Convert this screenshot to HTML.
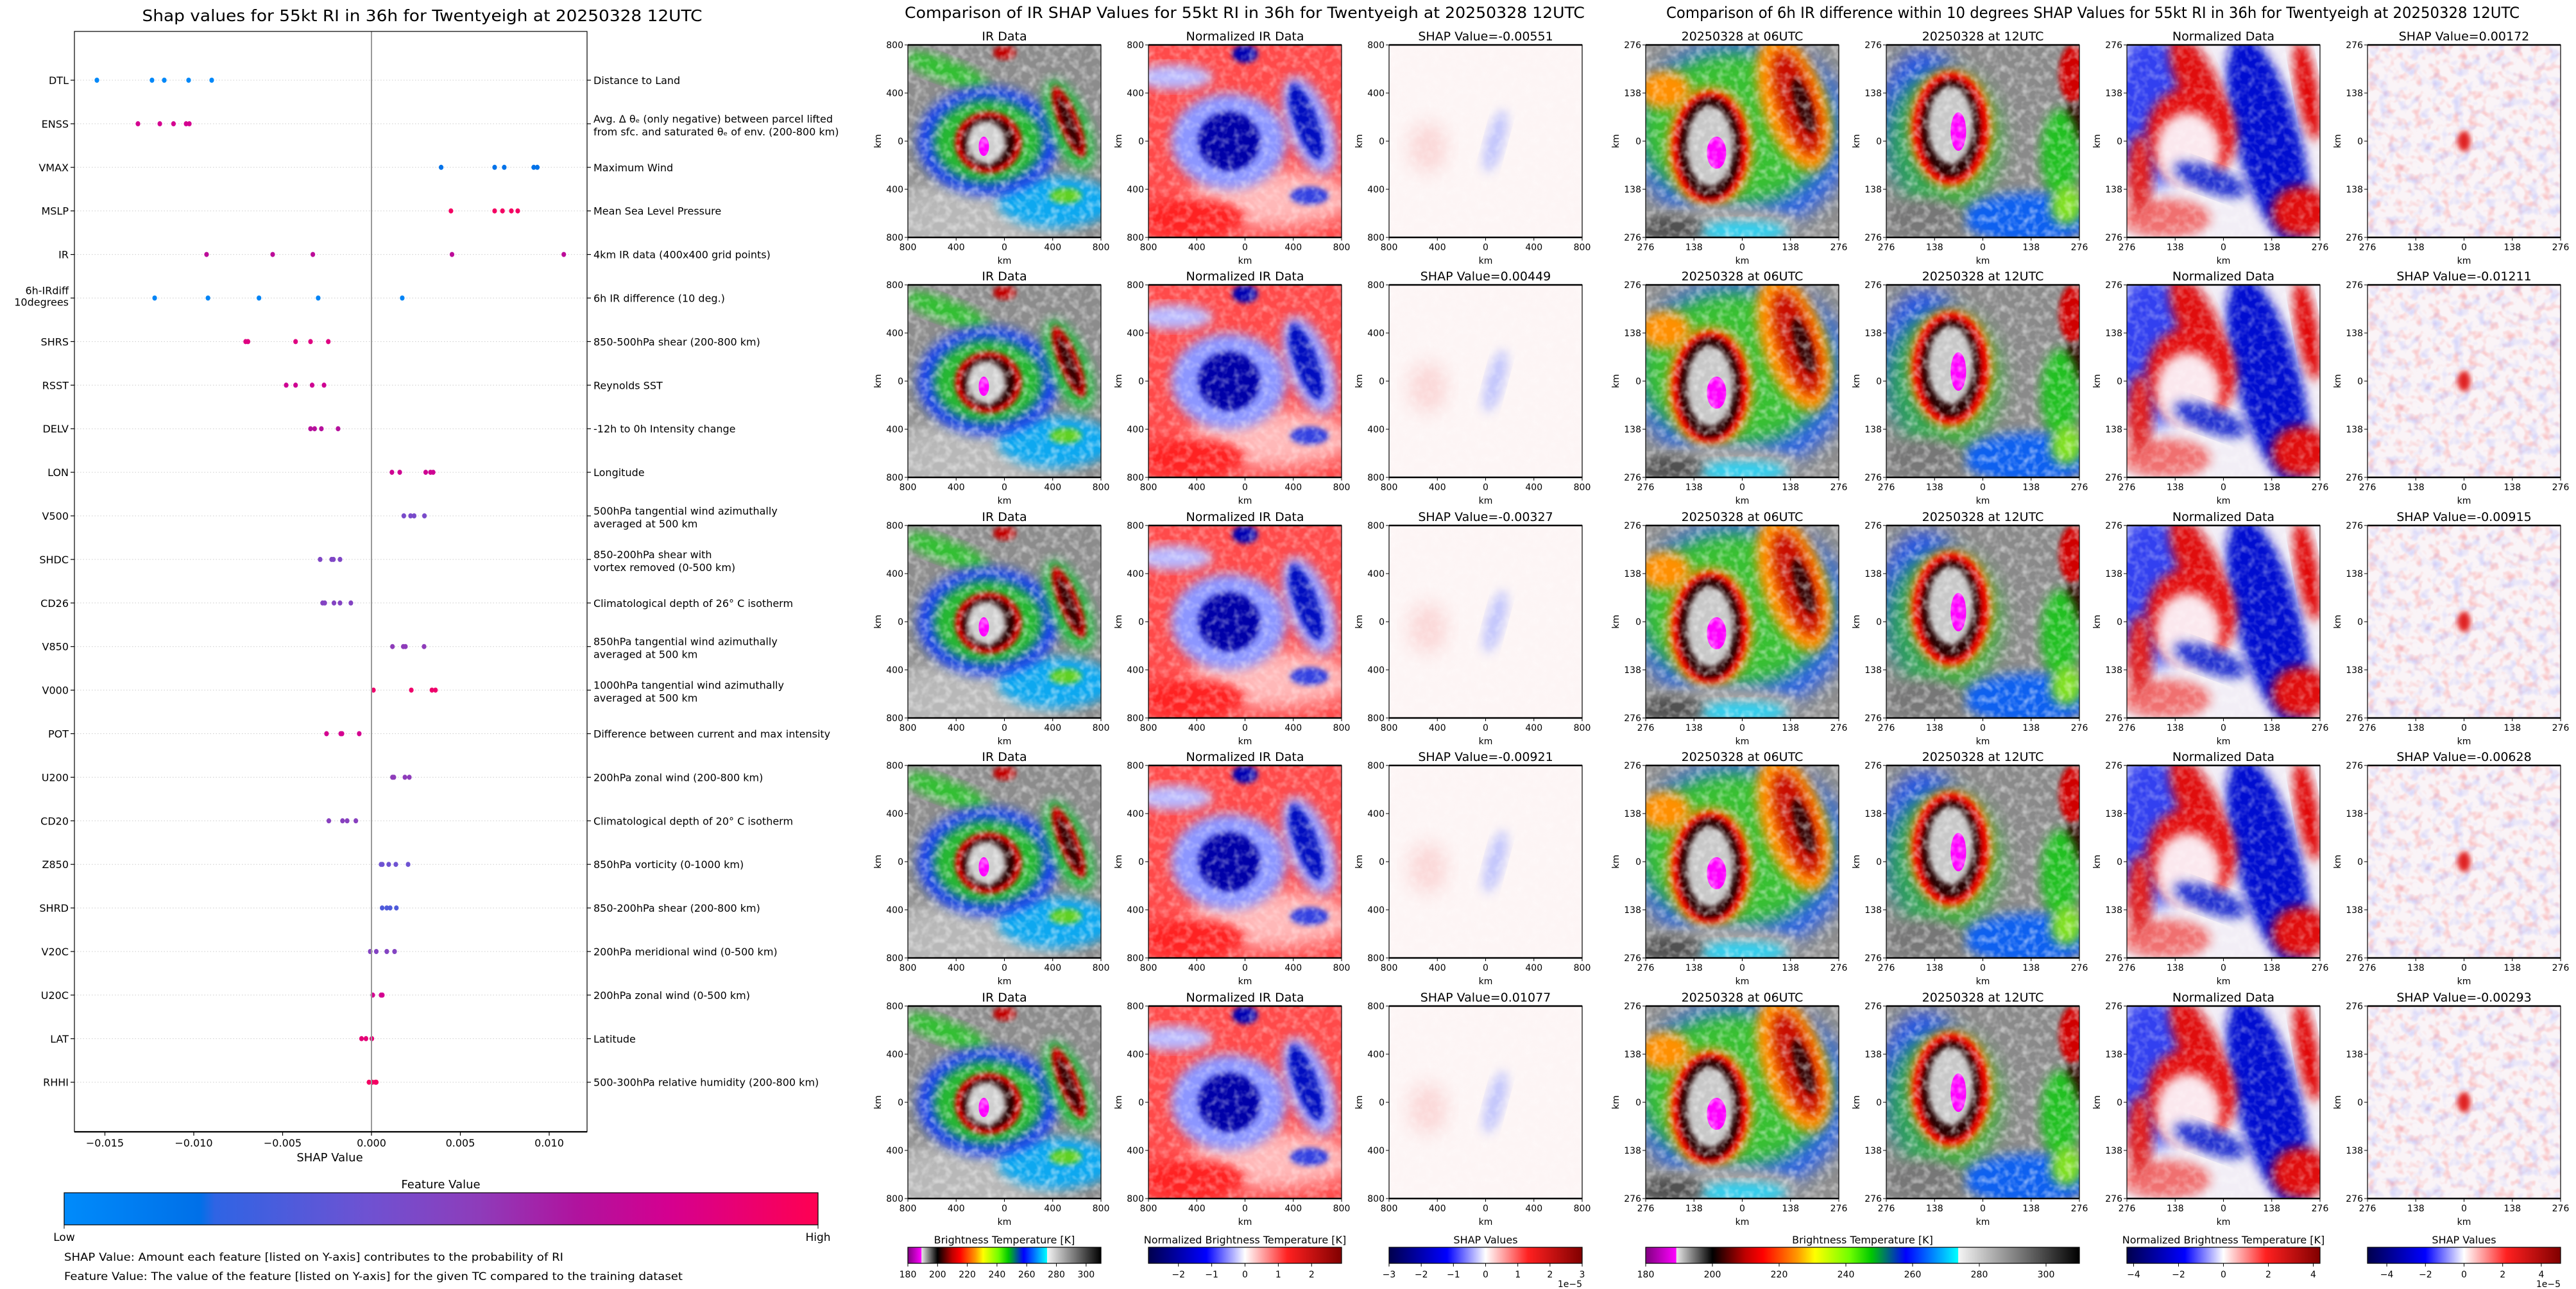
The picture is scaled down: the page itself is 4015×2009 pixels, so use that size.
<!DOCTYPE html>
<html><head><meta charset="utf-8"><title>SHAP RI chart</title>
<style>
html,body{margin:0;padding:0;background:#fff;}
svg{display:block;font-family:"DejaVu Sans","Liberation Sans",sans-serif;}
</style></head>
<body>
<svg id="root" xmlns="http://www.w3.org/2000/svg" width="4015" height="2009" viewBox="0 0 4015 2009">
<defs>
  <linearGradient id="fvGrad" x1="0" x2="1" y1="0" y2="0">
    <stop offset="0" stop-color="#008bfb"/><stop offset="0.18" stop-color="#0070e8"/>
    <stop offset="0.2" stop-color="#2f64e4"/><stop offset="0.4" stop-color="#6e52d2"/>
    <stop offset="0.55" stop-color="#8e3cba"/><stop offset="0.68" stop-color="#b0139e"/>
    <stop offset="0.8" stop-color="#d40090"/><stop offset="1" stop-color="#ff0052"/>
  </linearGradient>
  <linearGradient id="btGrad" x1="0" x2="1">
    <stop offset="0" stop-color="#800080"/><stop offset="0.07" stop-color="#ff00ff"/>
    <stop offset="0.071" stop-color="#e8e8e8"/><stop offset="0.154" stop-color="#000"/>
    <stop offset="0.23" stop-color="#c00000"/><stop offset="0.27" stop-color="#ff0000"/>
    <stop offset="0.35" stop-color="#ff9a00"/><stop offset="0.39" stop-color="#ffff00"/>
    <stop offset="0.47" stop-color="#70ff00"/><stop offset="0.52" stop-color="#00c800"/>
    <stop offset="0.6" stop-color="#0000ff"/><stop offset="0.72" stop-color="#00ffff"/>
    <stop offset="0.721" stop-color="#f4f4f4"/><stop offset="1" stop-color="#000"/>
  </linearGradient>
  <linearGradient id="bwrGrad" x1="0" x2="1">
    <stop offset="0" stop-color="#00004c"/><stop offset="0.3" stop-color="#0000ff"/>
    <stop offset="0.5" stop-color="#ffffff"/><stop offset="0.72" stop-color="#ff2020"/>
    <stop offset="1" stop-color="#800000"/>
  </linearGradient>
  <filter id="b6" x="-20%" y="-20%" width="140%" height="140%"><feGaussianBlur stdDeviation="8"/></filter>
  <filter id="b3" x="-20%" y="-20%" width="140%" height="140%"><feGaussianBlur stdDeviation="4"/></filter>
  <filter id="b12" x="-30%" y="-30%" width="160%" height="160%"><feGaussianBlur stdDeviation="14"/></filter>
  <filter id="noise"><feTurbulence type="fractalNoise" baseFrequency="0.09" numOctaves="2" seed="3"/>
    <feColorMatrix type="matrix" values="0 0 0 0 1  0 0 0 0 1  0 0 0 0 1  0 0 0 2.4 -1.0"/></filter>
  <filter id="noiseRB"><feTurbulence type="fractalNoise" baseFrequency="0.07" numOctaves="2" seed="7"/>
    <feColorMatrix type="matrix" values="0 0 0 0 0.95  0 0 0 0 0.2  0 0 0 0 0.2  2.2 0 0 0 -1.1"/></filter>
  <filter id="noiseB"><feTurbulence type="fractalNoise" baseFrequency="0.06" numOctaves="2" seed="11"/>
    <feColorMatrix type="matrix" values="0 0 0 0 0.3  0 0 0 0 0.35  0 0 0 0 1  0 2.2 0 0 -1.1"/></filter>

  <g id="imgIR">
    <rect width="300" height="300" fill="#8c8c8c"/>
    <ellipse cx="90" cy="270" rx="160" ry="55" fill="#b8b8b8" filter="url(#b12)"/>
    <ellipse cx="230" cy="245" rx="90" ry="40" fill="#10a8f0" filter="url(#b6)"/>
    <ellipse cx="60" cy="40" rx="70" ry="18" fill="#30c030" transform="rotate(20 60 40)" filter="url(#b6)"/>
    <ellipse cx="125" cy="150" rx="110" ry="85" fill="#1840f0" filter="url(#b6)"/>
    <ellipse cx="125" cy="150" rx="85" ry="65" fill="#28b830" filter="url(#b6)"/>
    <ellipse cx="125" cy="152" rx="52" ry="48" fill="#e80000" filter="url(#b3)"/>
    <ellipse cx="125" cy="152" rx="42" ry="40" fill="#250000" filter="url(#b3)"/>
    <ellipse cx="122" cy="152" rx="30" ry="33" fill="#cfcfcf" filter="url(#b3)"/>
    <ellipse cx="118" cy="158" rx="8" ry="15" fill="#ff00ff"/>
    <ellipse cx="250" cy="125" rx="30" ry="75" fill="#20c040" transform="rotate(-22 250 125)" filter="url(#b6)"/>
    <ellipse cx="250" cy="120" rx="16" ry="60" fill="#d00000" transform="rotate(-22 250 120)" filter="url(#b3)"/>
    <ellipse cx="250" cy="122" rx="8" ry="45" fill="#300000" transform="rotate(-22 250 122)" filter="url(#b3)"/>
    <ellipse cx="150" cy="12" rx="18" ry="11" fill="#c00000" filter="url(#b3)"/>
    <ellipse cx="245" cy="235" rx="25" ry="12" fill="#60d020" filter="url(#b3)"/>
    <rect width="300" height="300" filter="url(#noise)" opacity="0.45"/>
  </g>
  <g id="imgNorm">
    <rect width="300" height="300" fill="#ff4a4a"/>
    <ellipse cx="190" cy="240" rx="130" ry="45" fill="#ffb8b8" filter="url(#b12)"/>
    <ellipse cx="40" cy="50" rx="60" ry="20" fill="#b8b8ff" filter="url(#b6)"/>
    <ellipse cx="125" cy="150" rx="90" ry="75" fill="#8c96ff" filter="url(#b6)"/>
    <ellipse cx="125" cy="150" rx="48" ry="46" fill="#0000a8" filter="url(#b3)"/>
    <ellipse cx="250" cy="125" rx="35" ry="80" fill="#9aa0ff" transform="rotate(-20 250 125)" filter="url(#b6)"/>
    <ellipse cx="245" cy="120" rx="18" ry="62" fill="#0010c0" transform="rotate(-20 245 120)" filter="url(#b3)"/>
    <ellipse cx="150" cy="14" rx="20" ry="14" fill="#0000b0" filter="url(#b3)"/>
    <ellipse cx="250" cy="235" rx="30" ry="14" fill="#3040e0" filter="url(#b3)"/>
    <ellipse cx="70" cy="270" rx="80" ry="30" fill="#ff2020" filter="url(#b6)"/>
    <rect width="300" height="300" filter="url(#noise)" opacity="0.35"/>
  </g>
  <g id="imgShap">
    <rect width="300" height="300" fill="#fdf5f5"/>
    <ellipse cx="165" cy="150" rx="14" ry="50" fill="#a8b0ff" transform="rotate(15 165 150)" filter="url(#b6)" opacity="0.7"/>
    <ellipse cx="60" cy="160" rx="30" ry="40" fill="#fbd8d8" filter="url(#b12)"/>
    <rect width="300" height="300" fill="#fff" filter="url(#noise)" opacity="0.25"/>
  </g>
  <g id="imgT06">
    <rect width="300" height="300" fill="#8e8e8e"/>
    <ellipse cx="150" cy="140" rx="170" ry="150" fill="#2a60e8" filter="url(#b12)"/>
    <ellipse cx="140" cy="130" rx="150" ry="120" fill="#38c030" filter="url(#b12)"/>
    <ellipse cx="230" cy="90" rx="50" ry="110" fill="#ff9000" transform="rotate(-18 230 90)" filter="url(#b6)"/>
    <ellipse cx="235" cy="90" rx="28" ry="85" fill="#c81000" transform="rotate(-18 235 90)" filter="url(#b6)"/>
    <ellipse cx="245" cy="95" rx="12" ry="45" fill="#300000" transform="rotate(-18 245 95)" filter="url(#b3)"/>
    <ellipse cx="30" cy="70" rx="40" ry="30" fill="#ff9000" filter="url(#b6)"/>
    <ellipse cx="100" cy="160" rx="66" ry="94" fill="#ff8000" filter="url(#b6)"/>
    <ellipse cx="100" cy="160" rx="58" ry="86" fill="#e80000" filter="url(#b3)"/>
    <ellipse cx="100" cy="160" rx="48" ry="78" fill="#250000" filter="url(#b3)"/>
    <ellipse cx="100" cy="158" rx="36" ry="62" fill="#c8c8c8" filter="url(#b3)"/>
    <ellipse cx="110" cy="168" rx="15" ry="25" fill="#ff00ff"/>
    <ellipse cx="110" cy="280" rx="130" ry="30" fill="#a0a0a0" filter="url(#b6)"/>
    <ellipse cx="150" cy="290" rx="70" ry="16" fill="#30d0f0" filter="url(#b6)"/>
    <ellipse cx="40" cy="285" rx="50" ry="20" fill="#505050" filter="url(#b6)"/>
    <rect width="300" height="300" filter="url(#noise)" opacity="0.45"/>
  </g>
  <g id="imgT12">
    <rect width="300" height="300" fill="#8a8a8a"/>
    <ellipse cx="60" cy="120" rx="70" ry="110" fill="#2050f0" filter="url(#b12)"/>
    <ellipse cx="90" cy="150" rx="90" ry="110" fill="#30b830" filter="url(#b12)" opacity="0.8"/>
    <ellipse cx="100" cy="130" rx="64" ry="92" fill="#ff8000" filter="url(#b6)"/>
    <ellipse cx="100" cy="130" rx="58" ry="86" fill="#e80000" filter="url(#b3)"/>
    <ellipse cx="100" cy="130" rx="46" ry="76" fill="#250000" filter="url(#b3)"/>
    <ellipse cx="100" cy="125" rx="35" ry="60" fill="#c8c8c8" filter="url(#b3)"/>
    <ellipse cx="112" cy="135" rx="12" ry="30" fill="#ff00ff"/>
    <ellipse cx="290" cy="45" rx="22" ry="45" fill="#d00000" filter="url(#b3)"/>
    <ellipse cx="292" cy="120" rx="16" ry="30" fill="#300000" filter="url(#b3)"/>
    <ellipse cx="270" cy="170" rx="30" ry="70" fill="#20c020" filter="url(#b6)"/>
    <ellipse cx="220" cy="270" rx="100" ry="40" fill="#1060f0" filter="url(#b6)"/>
    <ellipse cx="280" cy="250" rx="25" ry="30" fill="#80e020" filter="url(#b6)"/>
    <ellipse cx="60" cy="270" rx="60" ry="30" fill="#777" filter="url(#b6)"/>
    <rect width="300" height="300" filter="url(#noise)" opacity="0.45"/>
  </g>
  <g id="imgND">
    <rect width="300" height="300" fill="#f2eef6"/>
    <ellipse cx="40" cy="100" rx="70" ry="120" fill="#3040f0" filter="url(#b12)"/>
    <ellipse cx="220" cy="150" rx="50" ry="170" fill="#0010d0" transform="rotate(-15 220 150)" filter="url(#b6)"/>
    <ellipse cx="110" cy="60" rx="30" ry="80" fill="#e01010" transform="rotate(-25 110 60)" filter="url(#b6)"/>
    <ellipse cx="280" cy="70" rx="16" ry="80" fill="#e00000" transform="rotate(-10 280 70)" filter="url(#b6)"/>
    <ellipse cx="100" cy="140" rx="70" ry="75" fill="#e41010" filter="url(#b6)"/>
    <ellipse cx="95" cy="165" rx="50" ry="60" fill="#fbe8ee" filter="url(#b6)"/>
    <ellipse cx="130" cy="210" rx="60" ry="20" fill="#2030d0" filter="url(#b6)" transform="rotate(20 130 210)"/>
    <ellipse cx="270" cy="260" rx="45" ry="40" fill="#e01010" filter="url(#b6)"/>
    <ellipse cx="60" cy="270" rx="70" ry="30" fill="#f07070" filter="url(#b6)"/>
    <ellipse cx="20" cy="200" rx="20" ry="60" fill="#e02020" filter="url(#b6)"/>
    <rect width="300" height="300" fill="#fff" filter="url(#noise)" opacity="0.3"/>
  </g>
  <g id="imgSD">
    <rect width="300" height="300" fill="#faf4f7"/>
    <rect width="300" height="300" filter="url(#noiseRB)" opacity="0.55"/>
    <rect width="300" height="300" filter="url(#noiseB)" opacity="0.45"/>
    <ellipse cx="150" cy="150" rx="10" ry="16" fill="#e02020" filter="url(#b3)"/>
  </g>
</defs>
<rect width="4015" height="2009" fill="#fff"/>
<g id="left"></g>
<g id="right"></g>
</svg>
<script>
const features = ["DTL","ENSS","VMAX","MSLP","IR","6h-IRdiff|10degrees","SHRS","RSST","DELV","LON","V500","SHDC","CD26","V850","V000","POT","U200","CD20","Z850","SHRD","V20C","U20C","LAT","RHHI"];
const descriptions = ["Distance to Land","Avg. Δ θₑ (only negative) between parcel lifted|from sfc. and saturated θₑ of env. (200-800 km)","Maximum Wind","Mean Sea Level Pressure","4km IR data (400x400 grid points)","6h IR difference (10 deg.)","850-500hPa shear (200-800 km)","Reynolds SST","-12h to 0h Intensity change","Longitude","500hPa tangential wind azimuthally|averaged at 500 km","850-200hPa shear with|vortex removed (0-500 km)","Climatological depth of 26° C isotherm","850hPa tangential wind azimuthally|averaged at 500 km","1000hPa tangential wind azimuthally|averaged at 500 km","Difference between current and max intensity","200hPa zonal wind (200-800 km)","Climatological depth of 20° C isotherm","850hPa vorticity (0-1000 km)","850-200hPa shear (200-800 km)","200hPa meridional wind (0-500 km)","200hPa zonal wind (0-500 km)","Latitude","500-300hPa relative humidity (200-800 km)"];
const shapValues = [
 [-0.01545,-0.01235,-0.01166,-0.01029,-0.00899],
 [-0.01314,-0.01191,-0.01114,-0.01043,-0.01025],
 [0.00392,0.00693,0.00747,0.00913,0.00933],
 [0.00447,0.00693,0.00737,0.00787,0.00823],
 [-0.00928,-0.00556,-0.0033,0.00453,0.01082],
 [-0.0122,-0.0092,-0.00633,-0.003,0.00173],
 [-0.00708,-0.00695,-0.00427,-0.00343,-0.00243],
 [-0.0048,-0.00427,-0.00334,-0.00267],
 [-0.00343,-0.0032,-0.00282,-0.00188],
 [0.00115,0.00159,0.00305,0.00332,0.00347],
 [0.00182,0.0022,0.0024,0.00298],
 [-0.00289,-0.00224,-0.00214,-0.00177],
 [-0.00275,-0.00263,-0.00211,-0.00177,-0.00116],
 [0.00118,0.00179,0.00191,0.00296],
 [0.00011,0.00224,0.0034,0.0036],
 [-0.00253,-0.00173,-0.00166,-0.00069],
 [0.00118,0.00126,0.00188,0.00213],
 [-0.0024,-0.00163,-0.00137,-0.00088],
 [0.00054,0.00061,0.00097,0.00137,0.00206],
 [0.0006,0.00086,0.00105,0.0014],
 [-0.00007,0.00027,0.00086,0.0013],
 [0.00007,0.00054,0.00061],
 [-0.00056,-0.00031,0.00002],
 [-0.00014,0.00005,0.00022,0.00027]
];
const featureValues = [0.02,0.8,0.17,0.95,0.72,0.05,0.85,0.78,0.7,0.78,0.45,0.48,0.5,0.55,0.92,0.8,0.55,0.52,0.4,0.3,0.5,0.8,0.88,0.95];
const xTicks = [-0.015,-0.010,-0.005,0.000,0.005,0.010];
const xTickLabels = ["−0.015","−0.010","−0.005","0.000","0.005","0.010"];

const shapTitles1 = ["SHAP Value=-0.00551","SHAP Value=0.00449","SHAP Value=-0.00327","SHAP Value=-0.00921","SHAP Value=0.01077"];
const shapTitles2 = ["SHAP Value=0.00172","SHAP Value=-0.01211","SHAP Value=-0.00915","SHAP Value=-0.00628","SHAP Value=-0.00293"];
const kmTicks800 = ["800","400","0","400","800"];
const kmTicks276 = ["276","138","0","138","276"];
const btTicks = [180,200,220,240,260,280,300];
const normTicks1 = [-2,-1,0,1,2];
const shapTicks1 = [-3,-2,-1,0,1,2,3];
const normTicks2 = [-4,-2,0,2,4];
const shapTicks2 = [-4,-2,0,2,4];

const NS="http://www.w3.org/2000/svg";
function mk(tag, attrs, parent, txt){
  const e=document.createElementNS(NS,tag);
  for(const k in attrs) e.setAttribute(k,attrs[k]);
  if(txt!==undefined) e.textContent=txt;
  parent.appendChild(e); return e;
}
const AX={l:116,r:915,t:49,b:1764};
const x0=579, pxPerUnit=27700;
function xs(v){return x0+v*pxPerUnit;}
function ys(i){return 125+67.9*i;}
const stops=[[0,[0,139,251]],[0.18,[0,112,232]],[0.2,[47,100,228]],[0.4,[110,82,210]],[0.55,[142,60,186]],[0.68,[176,19,158]],[0.8,[212,0,144]],[1,[255,0,82]]];
function fvColor(t){
  for(let i=1;i<stops.length;i++){ if(t<=stops[i][0]){const a=stops[i-1],b=stops[i];const f=(t-a[0])/(b[0]-a[0]);
    const c=a[1].map((v,j)=>Math.round(v+(b[1][j]-v)*f));return `rgb(${c[0]},${c[1]},${c[2]})`;}}
  return "rgb(255,0,82)";
}
const L=document.getElementById('left');
let t=mk('text',{x:658,y:33,'text-anchor':'middle','font-size':25,textLength:873,lengthAdjust:'spacingAndGlyphs'},L,"Shap values for 55kt RI in 36h for Twentyeigh at 20250328 12UTC");


const plot=mk('g',{},L);


features.forEach((f,i)=>{
  const y=ys(i);
  const g=mk('line',{x1:AX.l,x2:AX.r,y1:y,y2:y,stroke:'#ccc','stroke-width':1,'stroke-dasharray':'1.5,3'},plot);
  
  
  mk('line',{x1:AX.l-6,x2:AX.l,y1:y,y2:y,stroke:'#000','stroke-width':1.2},plot);
  mk('line',{x1:AX.r,x2:AX.r+6,y1:y,y2:y,stroke:'#000','stroke-width':1.2},plot);
  const parts=f.split('|');
  parts.forEach((p,k)=>{
    const yy = parts.length>1 ? y-6+k*18 : y+6;
    const tl=mk('text',{x:AX.l-9,y:yy,'text-anchor':'end','font-size':16},plot,p);
    
    
  });
  const dp=descriptions[i].split('|');
  dp.forEach((p,k)=>{
    const yy = dp.length>1 ? y-2+k*20 : y+6;
    const tl=mk('text',{x:925,y:yy,'font-size':16},plot,p);
    
    
  });
  shapValues[i].forEach(v=>{
    const c=mk('ellipse',{cx:xs(v),cy:y,rx:3.6,ry:4,fill:fvColor(featureValues[i])},plot);
    
    
  });
});
let zl=mk('line',{x1:x0,x2:x0,y1:AX.t,y2:AX.b,stroke:'#999','stroke-width':2},plot);


let fr=mk('rect',{x:AX.l,y:AX.t,width:AX.r-AX.l,height:AX.b-AX.t,fill:'none',stroke:'#000','stroke-width':1.2},plot);


mk('line',{x1:AX.l,x2:AX.r,y1:AX.b,y2:AX.b,stroke:'#000','stroke-width':2.2},plot);
xTicks.forEach((v,k)=>{
  mk('line',{x1:xs(v),x2:xs(v),y1:AX.b,y2:AX.b+6,stroke:'#000','stroke-width':1.2},plot);
  const tl=mk('text',{x:xs(v),y:1787,'text-anchor':'middle','font-size':16},plot,xTickLabels[k]);
  
  
});
t=mk('text',{x:514,y:1810,'text-anchor':'middle','font-size':18},L,"SHAP Value");


t=mk('text',{x:687,y:1852,'text-anchor':'middle','font-size':18},L,"Feature Value");


t=mk('rect',{x:100,y:1859,width:1175,height:50,fill:'url(#fvGrad)',stroke:'#000','stroke-width':1.2},L);


mk('line',{x1:100,x2:100,y1:1909,y2:1915,stroke:'#000'},L);
mk('line',{x1:1275,x2:1275,y1:1909,y2:1915,stroke:'#000'},L);
t=mk('text',{x:100,y:1934,'text-anchor':'middle','font-size':17},L,"Low");


t=mk('text',{x:1275,y:1934,'text-anchor':'middle','font-size':17},L,"High");


t=mk('text',{x:100,y:1965,'font-size':16.5,textLength:778,lengthAdjust:'spacingAndGlyphs'},L,"SHAP Value: Amount each feature [listed on Y-axis] contributes to the probability of RI");


t=mk('text',{x:100,y:1995,'font-size':16.5,textLength:964,lengthAdjust:'spacingAndGlyphs'},L,"Feature Value: The value of the feature [listed on Y-axis] for the given TC compared to the training dataset");



const R=document.getElementById('right');
t=mk('text',{x:1940,y:28,'text-anchor':'middle','font-size':24,textLength:1060,lengthAdjust:'spacingAndGlyphs'},R,"Comparison of IR SHAP Values for 55kt RI in 36h for Twentyeigh at 20250328 12UTC");


t=mk('text',{x:3262,y:28,'text-anchor':'middle','font-size':24,textLength:1330,lengthAdjust:'spacingAndGlyphs'},R,"Comparison of 6h IR difference within 10 degrees SHAP Values for 55kt RI in 36h for Twentyeigh at 20250328 12UTC");


const colX=[1415,1790,2165,2565,2940,3315,3690];
const rowY=[70,444,819,1193,1568];
const colImg=["imgIR","imgNorm","imgShap","imgT06","imgT12","imgND","imgSD"];
const colNames=["ir-data","normalized-ir","ir-shap","ir-06utc","ir-12utc","normalized-diff","diff-shap"];
const PW=301, PH=300;
rowY.forEach((y,ri)=>{
  colX.forEach((x,ci)=>{
    const g=mk('g',{},R);
    
    
    const titles=["IR Data","Normalized IR Data",shapTitles1[ri],"20250328 at 06UTC","20250328 at 12UTC","Normalized Data",shapTitles2[ri]];
    const st=mk('text',{x:x+PW/2,y:y-7,'text-anchor':'middle','font-size':19},g,titles[ci]);
    
    
    const inner=mk('svg',{x:x,y:y,width:PW,height:PH,viewBox:'0 0 300 300',preserveAspectRatio:'none',overflow:'hidden'},g);
    mk('use',{href:'#'+colImg[ci]},inner);
    mk('rect',{x:x,y:y,width:PW,height:PH,fill:'none',stroke:'#000','stroke-width':1.2},g);
    mk('line',{x1:x,x2:x+PW,y1:y,y2:y,stroke:'#000','stroke-width':2.5},g);
    mk('line',{x1:x,x2:x+PW,y1:y+PH,y2:y+PH,stroke:'#000','stroke-width':2.5},g);
    const ticks = ci<3 ? kmTicks800 : kmTicks276;
    ticks.forEach((lab,k)=>{
      const tx=x+k*PW/4, ty=y+k*PH/4;
      mk('line',{x1:tx,x2:tx,y1:y+PH,y2:y+PH+5,stroke:'#000'},g);
      mk('line',{x1:x-5,x2:x,y1:ty,y2:ty,stroke:'#000'},g);
      const a=mk('text',{x:tx,y:y+PH+20,'text-anchor':'middle','font-size':14},g,lab);
      
      
      const b=mk('text',{x:x-7,y:ty+5,'text-anchor':'end','font-size':14},g,lab);
      
      
    });
    const kx=mk('text',{x:x+PW/2,y:y+PH+41,'text-anchor':'middle','font-size':14},g,"km");
    
    
    const ky=mk('text',{x:x-42,y:y+PH/2,'text-anchor':'middle','font-size':14,transform:`rotate(-90 ${x-42} ${y+PH/2})`},g,"km");
    
    
  });
});
function colorbar(x,w,grad,title,ticks,vmin,vmax,name,exp){
  const g=mk('g',{},R);
  
  
  mk('text',{x:x+w/2,y:1938,'text-anchor':'middle','font-size':16},g,title);
  mk('rect',{x:x,y:1944,width:w,height:25,fill:'url(#'+grad+')',stroke:'#000','stroke-width':1.2},g);
  ticks.forEach(v=>{
    const tx=x+(v-vmin)/(vmax-vmin)*w;
    mk('line',{x1:tx,x2:tx,y1:1969,y2:1974,stroke:'#000'},g);
    const l=mk('text',{x:tx,y:1991,'text-anchor':'middle','font-size':14},g,String(v).replace('-','−'));
    
    
  });
  if(exp){mk('text',{x:x+w,y:2006,'text-anchor':'end','font-size':14},g,"1e−5");}
}
colorbar(1415,301,'btGrad',"Brightness Temperature [K]",btTicks,180,310,'bt-colorbar-1',false);
colorbar(1790,301,'bwrGrad',"Normalized Brightness Temperature [K]",normTicks1,-2.9,2.9,'norm-colorbar-1',false);
colorbar(2165,301,'bwrGrad',"SHAP Values",shapTicks1,-3,3,'shap-colorbar-1',true);
colorbar(2565,676,'btGrad',"Brightness Temperature [K]",btTicks,180,310,'bt-colorbar-2',false);
colorbar(3315,301,'bwrGrad',"Normalized Brightness Temperature [K]",normTicks2,-4.3,4.3,'norm-colorbar-2',false);
colorbar(3690,301,'bwrGrad',"SHAP Values",shapTicks2,-5,5,'shap-colorbar-2',true);
</script>
</body></html>
